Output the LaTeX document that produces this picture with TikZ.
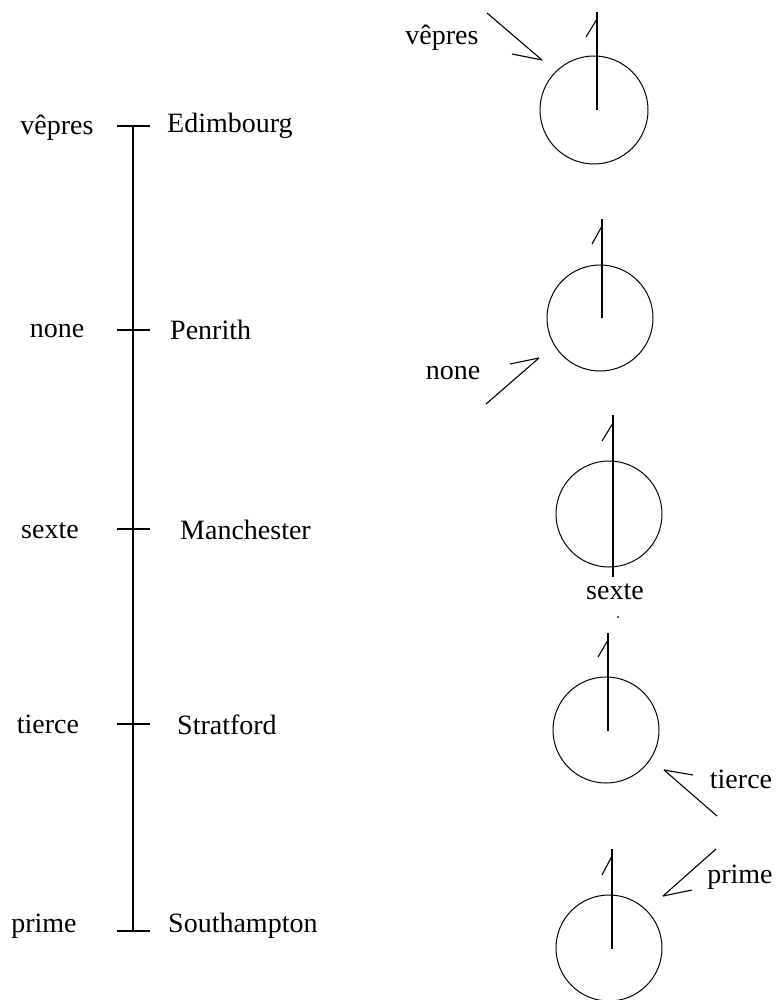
\documentclass[tikz,border=0pt]{standalone}
\usepackage{fontspec}
\setmainfont{Liberation Serif}
\usetikzlibrary{positioning}
\tikzset{
hour/.style={
  font=\fontsize{28}{32}\selectfont,
  inner sep=0pt
  }
}
\tikzset{
town/.style={
  font=\fontsize{28}{32}\selectfont,
  anchor=west,
  inner sep=0pt
  }
}
\tikzset{
dial/.style={
  circle,
  draw=black,
  line width=1pt,
  inner sep=0pt,
  minimum size=106pt
  }
}
\tikzstyle{edge} = [draw,line width=1.4pt]
\tikzstyle{pointer} = [draw,line width=1.1pt]
\tikzset{%
    boundingBox/.style={use as bounding box},
    }

\begin{document}
\begin{tikzpicture}[x=1pt, y=-1pt]
        \path[boundingBox] (0,0) rectangle (778,1000);

	%timeline
	\coordinate (t1) at (133, 126);
	\coordinate (t2) at (133, 330);
	\coordinate (t3) at (133, 529);
	\coordinate (t4) at (133, 724);
	\coordinate (t5) at (133, 931);
	\draw[edge] (t1) -- (t5);
	\foreach \t in {t1,t2,t3,t4,t5}
		\draw[edge] ([xshift=-16pt]\t) -- ([xshift=17pt]\t);

	\node (h1) at (57, 128) [hour] {vêpres};
	\node (h2) at (57, 331) [hour] {none};
	\node (h3) at (50, 531) [hour] {sexte};
	\node (h4) at (48, 724) [hour] {tierce};
	\node (h5) at (44, 926) [hour] {prime};

	\node (p1) at (167, 126) [town] {Edimbourg};
	\node (p2) at (170, 330) [town] {Penrith};
	\node (p3) at (180, 530) [town] {Manchester};
	\node (p4) at (177, 725) [town] {Stratford};
	\node (p5) at (168, 926) [town] {Southampton};

	%dials
	\node (d1) at (594, 110) [dial, minimum size=108pt] {};
	\node (d2) at (600, 318) [dial] {};
	\node (d3) at (609, 514) [dial] {};
	\node (d4) at (606, 730) [dial] {};
	\node (d5) at (609, 948) [dial] {};

	%needles
	\coordinate (n1) at (597, 110);  \coordinate (m1) at (597, 12);
	\coordinate (k1) at (597, 19);   \coordinate (g1) at (586, 37);
	\coordinate (n2) at (602, 318);  \coordinate (m2) at (602, 219);
	\coordinate (k2) at (602, 226);  \coordinate (g2) at (592, 244);
	\coordinate (n3) at (613, 577);  \coordinate (m3) at (613, 415);
	\coordinate (k3) at (613, 423);  \coordinate (g3) at (602, 441);
	\coordinate (n4) at (608, 731);  \coordinate (m4) at (608, 633);
	\coordinate (k4) at (608, 640);  \coordinate (g4) at (598, 657);
	\coordinate (n5) at (612, 949);  \coordinate (m5) at (612, 849);
	\coordinate (k5) at (612, 856);  \coordinate (g5) at (602, 875);
	\foreach \i in {1,...,5} {
		\draw[edge] (n\i) -- (m\i);
		\draw[pointer] (k\i) -- (g\i);
	}

	%labels of the dials
	\node (l1) at (442, 38) [hour] {vêpres};
	\node (l2) at (453, 373) [hour] {none};
	\node (l3) at (615, 592) [hour] {sexte};
	\node (l4) at (741, 779) [hour] {tierce};
	\node (l5) at (740, 877) [hour] {prime};

	%pointers
	\coordinate (a1) at (487, 13);   \coordinate (b1) at (542, 60);  \coordinate (c1) at (512, 54);
	\coordinate (a2) at (486, 404);  \coordinate (b2) at (539, 358); \coordinate (c2) at (510, 364);
	\coordinate (a4) at (717, 816);  \coordinate (b4) at (664, 770); \coordinate (c4) at (693, 775);
	\coordinate (a5) at (716, 849);  \coordinate (b5) at (663, 896); \coordinate (c5) at (692, 890);
	\foreach \i in {1,2,4,5} {
		\draw[pointer] (a\i) -- (b\i);
		\draw[pointer] (c\i) -- (b\i);
	}

	\fill (618, 617) circle (1pt);
\end{tikzpicture}
\end{document}
